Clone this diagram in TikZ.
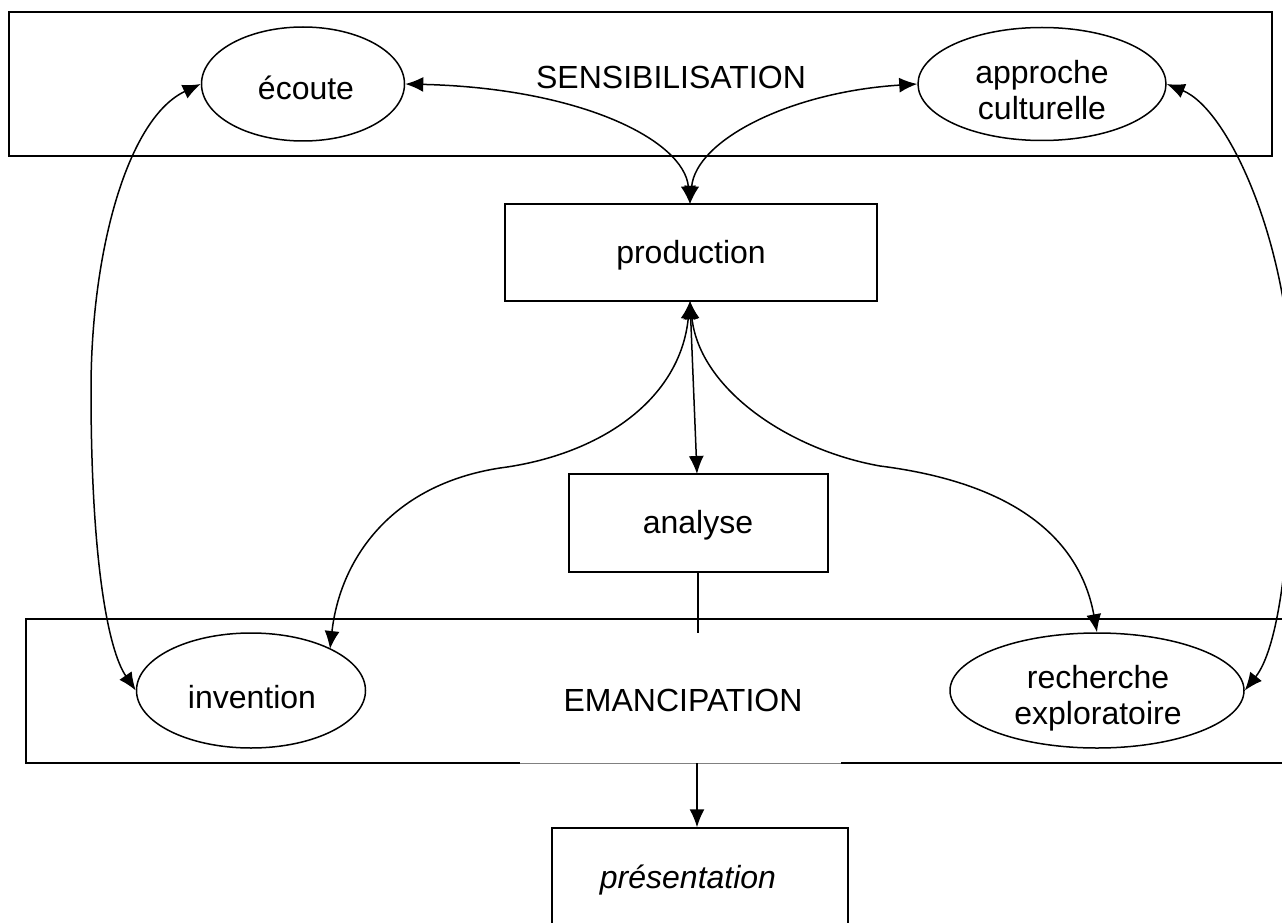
\documentclass[tikz,border=0pt]{standalone}
\usepackage{fontspec}
\setmainfont{Liberation Sans}
\usetikzlibrary{shapes.geometric,arrows.meta}
\begin{document}
\begin{tikzpicture}[x=1pt,y=-1pt,
  every node/.style={font=\fontsize{32}{36}\selectfont, inner sep=0pt},
  ln/.style={line width=1.5pt},
  frame/.style={ln, draw, rectangle},
  oval/.style={ln, draw, ellipse, align=center},
  arr/.style={ln, -{Latex[length=18pt,width=15pt]}},
  darr/.style={ln, {Latex[length=18pt,width=15pt]}-{Latex[length=18pt,width=15pt]}}
]
\useasboundingbox (0,0) rectangle (1282,923);
\fill[white] (0,0) rectangle (1282,923);

% big frames
\node[frame, minimum width=1263pt, minimum height=144pt] (sens) at (640.5,84) {};
\node (senslbl) at (671,77) {SENSIBILISATION};
\node[frame, minimum width=1274pt, minimum height=144pt] (emanc) at (663,691) {};
\node (emanclbl) at (683,700) {EMANCIPATION};
\draw[white, line width=1.9pt] (520,763) -- (841,763);
\draw[black!50, line width=0.9pt] (520,763) -- (841,763);

% ellipses
\node[oval, minimum width=203pt, minimum height=114pt] (ecoute) at (303,84) {};
\node (ecoutelbl) at (306,88) {écoute};
\node[oval, minimum width=248pt, minimum height=113pt] (appro) at (1042,84) {};
\node[align=center] (approlbl) at (1042,90) {approche\\culturelle};
\node[oval, minimum width=229pt, minimum height=115pt] (inv) at (251,690.5) {};
\node (invlbl) at (252,697) {invention};
\node[oval, minimum width=294pt, minimum height=115pt] (rech) at (1097,690.5) {};
\node[align=center] (rechlbl) at (1098,698) {recherche\\exploratoire};

% boxes
\node[frame, minimum width=372pt, minimum height=97pt] (prod) at (691,252.5) {};
\node (prodlbl) at (691,255) {production};
\node[frame, minimum width=259pt, minimum height=98pt] (ana) at (698.5,523) {};
\node (analbl) at (698,525) {analyse};
\node[frame, minimum width=296pt, minimum height=150pt] (pres) at (700,903) {};
\node (preslbl) at (688,880) {\itshape présentation};

% connectors
\coordinate (ptop) at (690,204);
\coordinate (pbot) at (690,301);
\draw[darr] (ecoute.east) .. controls (580,88) and (684,140) .. (ptop);
\draw[darr] (appro.west) .. controls (790,92) and (696,140) .. (ptop);
\draw[darr] (ecoute.west) .. controls (128,118) and (91,250) .. (91,390)
   .. controls (91,560) and (108,650) .. (inv.west);
\draw[darr] (appro.east) .. controls (1230,110) and (1292,250) .. (1292,400)
   .. controls (1292,560) and (1277,650) .. (rech.east);
\coordinate (invtop) at (330,649);
\draw[darr] (pbot) .. controls (680,400) and (600,455) .. (500,468)
   .. controls (390,485) and (340,560) .. (invtop);
\draw[darr] (pbot) .. controls (700,390) and (790,450) .. (880,466)
   .. controls (1030,485) and (1082,550) .. (rech.north);
\coordinate (anatop) at (697,474);
\draw[darr] (pbot) -- (anatop);
\coordinate (anastub) at (698,633);
\draw[ln] (ana.south -| anastub) -- (anastub);
\coordinate (emb) at (697,763);
\draw[arr] (emb) -- (pres.north -| emb);
\end{tikzpicture}
\end{document}
